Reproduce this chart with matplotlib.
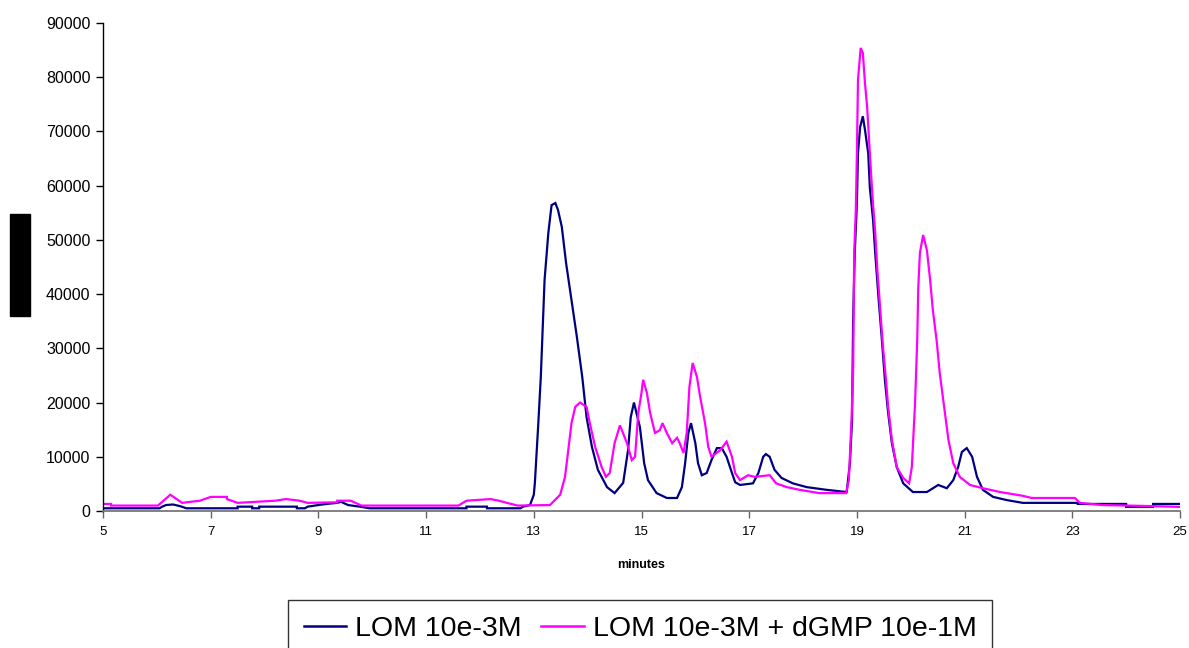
import matplotlib
matplotlib.use("Agg")
import matplotlib.pyplot as plt
from matplotlib.patches import Rectangle
from matplotlib.lines import Line2D

plt.rcParams['font.family'] = ['Liberation Sans', 'DejaVu Sans']

# Chromatogram traces: retention time (min) and detector signal
lom_time = [5.0, 6.05, 6.1, 6.17, 6.3, 6.43, 6.55,
            7.5, 7.5, 7.77, 7.77, 7.9, 7.9, 8.6, 8.6, 8.75, 8.8, 9.0, 9.15, 9.35, 9.42, 9.55, 9.77, 9.95,
            11.75, 11.75, 12.13, 12.13, 12.75, 12.8, 12.93, 13.0, 13.02, 13.08, 13.13, 13.17, 13.2,
            13.27, 13.33, 13.4, 13.45, 13.52, 13.6, 13.7, 13.8, 13.9, 13.98, 14.08, 14.19, 14.36,
            14.5, 14.66, 14.75, 14.8, 14.86, 14.97, 15.05, 15.12, 15.28, 15.47, 15.66, 15.75, 15.81,
            15.87, 15.92, 16.0, 16.05, 16.12, 16.21, 16.3, 16.4, 16.49, 16.58, 16.68, 16.74, 16.83,
            17.07, 17.17, 17.26, 17.31, 17.38, 17.47, 17.6, 17.81, 18.07, 18.44, 18.81, 18.87,
            18.91, 18.93, 18.96, 19.0, 19.02, 19.06, 19.11, 19.15, 19.21, 19.24, 19.3, 19.34, 19.4,
            19.46, 19.52, 19.58, 19.65, 19.74, 19.86, 20.04, 20.3, 20.51, 20.67, 20.79, 20.88, 20.95,
            21.04, 21.14, 21.23, 21.34, 21.53, 21.79, 22.08, 23.1, 23.1, 24.0, 24.0, 24.5, 24.5, 25.0]
lom_signal = [500, 500, 800, 1100, 1200, 900, 500,
              500, 800, 800, 500, 500, 800, 800, 500, 500, 800, 1100, 1300, 1500, 1700, 1100, 800, 500,
              500, 800, 800, 500, 500, 800, 1100, 3000, 5200, 15500, 24700, 34700, 42600,
              51300, 56400, 56800, 55500, 52400, 45700, 38900, 32100, 24700, 17300, 11800, 7600, 4400,
              3300, 5200, 11200, 17300, 20000, 15500, 8800, 5700, 3300, 2400, 2400, 4400, 8800,
              14400, 16200, 12500, 8800, 6600, 7000, 9400, 11600, 11600, 10000, 7000, 5300, 4800,
              5100, 7000, 10000, 10500, 10000, 7600, 6100, 5100, 4400, 3900, 3500, 8800,
              16800, 35200, 47600, 56800, 66000, 70800, 72800, 70300, 66000, 59700, 53700, 47600, 39500,
              32100, 24200, 18100, 12500, 8100, 5100, 3500, 3500, 4800, 4200, 5700, 8100, 10900,
              11600, 10000, 6300, 3900, 2600, 2000, 1500, 1500, 1300, 1300, 750, 750, 1300, 1300]

dgmp_time = [5.0, 5.15, 5.15, 6.02, 6.25, 6.47, 6.8, 7.0, 7.3, 7.3, 7.5, 8.2, 8.4, 8.65, 8.8,
             9.35, 9.35, 9.6, 9.8, 11.6, 11.75, 12.2, 12.35, 12.5, 12.7, 13.3, 13.49, 13.58,
             13.64, 13.7, 13.77, 13.86, 13.98, 14.04, 14.14, 14.26, 14.34, 14.41, 14.5, 14.6,
             14.73, 14.82, 14.88, 14.94, 15.0, 15.03, 15.1, 15.16, 15.25, 15.34, 15.39, 15.47,
             15.57, 15.66, 15.71, 15.78, 15.84, 15.89, 15.95, 16.03, 16.09, 16.18, 16.24, 16.3,
             16.46, 16.58, 16.68, 16.74, 16.83, 16.98, 17.1, 17.38, 17.5, 17.7, 17.94, 18.3, 18.8,
             18.85, 18.9, 18.93, 18.95, 18.98, 19.0, 19.02, 19.07, 19.11, 19.15, 19.19, 19.24,
             19.29, 19.34, 19.38, 19.43, 19.48, 19.54, 19.58, 19.65, 19.74, 19.86, 19.97, 20.02,
             20.08, 20.12, 20.14, 20.17, 20.23, 20.3, 20.36, 20.41, 20.48, 20.54, 20.62, 20.7,
             20.79, 20.91, 21.1, 21.34, 21.66, 21.9, 22.08, 22.25, 23.05, 23.14, 23.55, 24.5, 25.0]
dgmp_signal = [1300, 1300, 1000, 1000, 3000, 1500, 1900, 2600, 2600, 2200, 1500, 1900, 2200, 1900, 1500,
               1600, 1900, 1900, 1000, 1000, 1900, 2200, 1900, 1500, 1000, 1100, 3000, 6300,
               11200, 16200, 19200, 20000, 19200, 16200, 11800, 8100, 6300, 7000, 12500, 15800,
               12500, 9400, 10000, 18100, 21800, 24200, 21800, 18100, 14400, 14900, 16200, 14400,
               12500, 13500, 12500, 10700, 14400, 22900, 27300, 24700, 21000, 16200, 11800, 10000,
               11200, 12800, 10000, 7000, 5700, 6600, 6300, 6600, 5100, 4400, 3900, 3300, 3300,
               5700, 16800, 26000, 47600, 55500, 66000, 79500, 85400, 84500, 78900, 74500, 66000,
               57900, 51300, 44400, 37600, 30800, 24200, 19200, 13100, 8100, 6100, 5100, 8100,
               19900, 31500, 41300, 47600, 50900, 48100, 42600, 37100, 31500, 25300, 19200, 13100,
               8800, 6300, 4800, 4200, 3500, 3100, 2800, 2400, 2400, 1500, 1100, 900, 750]

x_ticks = [5, 7, 9, 11, 13, 15, 17, 19, 21, 23, 25]
y_ticks = [0, 10000, 20000, 30000, 40000, 50000, 60000, 70000, 80000, 90000]
series_labels = ["LOM 10e-3M", "LOM 10e-3M + dGMP 10e-1M"]
x_label = "minutes"

W, H = 1189, 648
fig = plt.figure(figsize=(W / 100, H / 100), dpi=100)
ax = fig.add_axes([103 / W, 1 - 511 / H, (1180 - 103) / W, (511 - 23) / H])

blue = '#000080'
pink = '#FF00FF'
ax.plot(lom_time, lom_signal, color=blue, lw=1.6, solid_joinstyle='miter')
ax.plot(dgmp_time, dgmp_signal, color=pink, lw=1.6, solid_joinstyle='miter')

ax.set_xlim(5, 25)
ax.set_ylim(0, 90000)
ax.set_xticks(x_ticks)
ax.set_xticklabels([str(v) for v in x_ticks])
ax.set_yticks(y_ticks)
ax.set_yticklabels([str(v) for v in y_ticks])
ax.tick_params(axis='y', direction='out', length=5, width=1, labelsize=11.5, pad=4, color='black')
ax.tick_params(axis='x', direction='out', length=5, width=1, labelsize=9.5, pad=6, color='#666666')
for side in ('top', 'right'):
    ax.spines[side].set_visible(False)
ax.spines['left'].set_color('black')
ax.spines['bottom'].set_color('#777777')
ax.spines['left'].set_linewidth(1)
ax.spines['bottom'].set_linewidth(1.3)
ax.set_xlabel(x_label, fontsize=9, fontweight='bold', labelpad=15)

# Masked axis title block
fig.add_artist(Rectangle((10 / W, 1 - 316 / H), 20 / W, 102 / H,
                         transform=fig.transFigure, color='black'))

handles = [Line2D([], [], color=blue, lw=1.8), Line2D([], [], color=pink, lw=1.8)]
leg = fig.legend(handles, series_labels, loc='upper center', bbox_to_anchor=(640 / W, 1 - 600 / H),
                 ncol=2, fontsize=20.5, frameon=True, fancybox=False, handlelength=1.5,
                 handletextpad=0.3, columnspacing=0.7, borderpad=0.55, borderaxespad=0)
leg.get_frame().set_edgecolor('black')
leg.get_frame().set_linewidth(1)

fig.savefig('out.png', dpi=100)
